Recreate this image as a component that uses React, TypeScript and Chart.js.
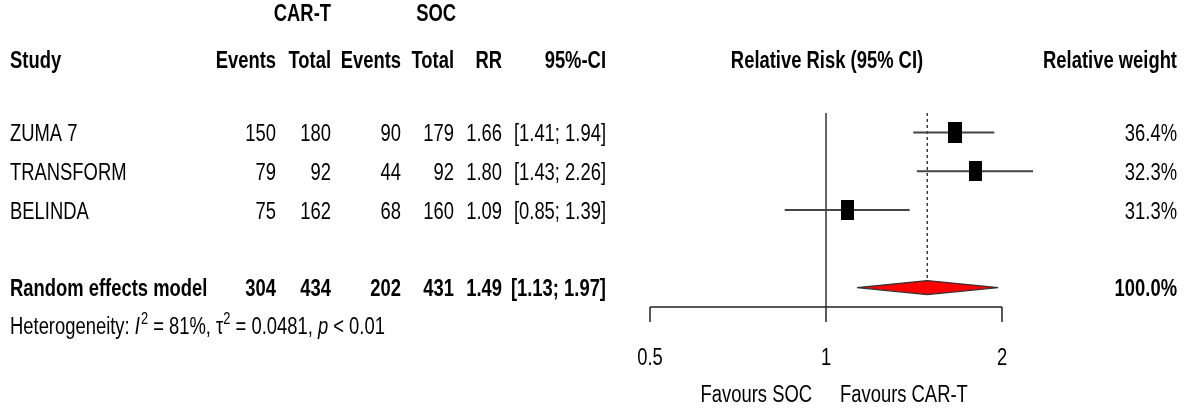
import React, { useEffect, useRef } from "react";
import { Chart, registerables } from "chart.js";

Chart.register(...registerables);

// ---------- data ----------
const studies = ["ZUMA 7", "TRANSFORM", "BELINDA"];
const eventsCart = [150, 79, 75];
const totalCart = [180, 92, 162];
const eventsSoc = [90, 44, 68];
const totalSoc = [179, 92, 160];
const rr = [1.66, 1.8, 1.09];
const ciLow = [1.41, 1.43, 0.85];
const ciHigh = [1.94, 2.26, 1.39];
const weights = ["36.4%", "32.3%", "31.3%"];
const studyRows = [1, 2, 3];

const pooledLabel = "Random effects model";
const pooledEventsCart = 304;
const pooledTotalCart = 434;
const pooledEventsSoc = 202;
const pooledTotalSoc = 431;
const pooledRR = 1.49;
const pooledLow = 1.13;
const pooledHigh = 1.97;
const pooledWeight = "100.0%";
const pooledRow = 5;

const hetI2 = "81%";
const hetTau2 = "0.0481";
const hetP = "< 0.01";

const xTicks = [0.5, 1, 2];
const xTickLabels = ["0.5", "1", "2"];
const labelLeft = "Favours SOC";
const labelRight = "Favours CAR-T";
const groupLabels = ["CAR-T", "SOC"];
const colHeaders = ["Events", "Total", "Events", "Total", "RR", "95%-CI"];

// ---------- style ----------
const W = 1186;
const H = 409;
const FONT = '"Liberation Sans", Arial, Helvetica, sans-serif';
const FS = 23;
const SX = 0.8;

function fmt2(v: number) {
  return v.toFixed(2);
}

function txt(
  ctx: CanvasRenderingContext2D,
  s: string,
  x: number,
  y: number,
  align: CanvasTextAlign,
  bold = false,
  italic = false,
  size = FS
) {
  ctx.save();
  ctx.font = `${italic ? "italic " : ""}${bold ? "bold " : ""}${size}px ${FONT}`;
  ctx.fillStyle = "#000";
  ctx.textAlign = align;
  ctx.textBaseline = "alphabetic";
  ctx.translate(x, y);
  ctx.scale(SX, 1);
  ctx.fillText(s, 0, 0);
  const w = ctx.measureText(s).width * SX;
  ctx.restore();
  return w;
}

function boxImage(w: number, h: number) {
  const c = document.createElement("canvas");
  c.width = w;
  c.height = h;
  const g = c.getContext("2d")!;
  g.fillStyle = "#000";
  g.fillRect(0, 0, w, h);
  return c;
}

const tablePlugin = {
  id: "forestTable",
  afterDraw(chart: any) {
    const ctx: CanvasRenderingContext2D = chart.ctx;
    const xs = chart.scales.x;
    const ys = chart.scales.y;
    const area = chart.chartArea;

    // column right edges
    const cols = [276, 331, 401, 454, 502, 606];

    // header row 1
    txt(ctx, groupLabels[0], cols[1], 21, "right", true);
    txt(ctx, groupLabels[1], cols[3] + 2, 21, "right", true);
    // header row 2
    const h2 = 68;
    txt(ctx, "Study", 10, h2, "left", true);
    colHeaders.forEach((h, i) => txt(ctx, h, cols[i], h2, "right", true));
    txt(ctx, "Relative Risk (95% CI)", xs.getPixelForValue(1) + 1, h2, "center", true);
    txt(ctx, "Relative weight", 1177, h2, "right", true);

    // study rows
    studies.forEach((s, i) => {
      const y = ys.getPixelForValue(studyRows[i]) + 8.5;
      txt(ctx, s, 10, y, "left");
      const vals = [
        String(eventsCart[i]),
        String(totalCart[i]),
        String(eventsSoc[i]),
        String(totalSoc[i]),
        fmt2(rr[i]),
        `[${fmt2(ciLow[i])}; ${fmt2(ciHigh[i])}]`,
      ];
      vals.forEach((v, j) => txt(ctx, v, cols[j], y, "right"));
      txt(ctx, weights[i], 1177, y, "right");
    });

    // pooled row
    const py = ys.getPixelForValue(pooledRow) + 8.5;
    txt(ctx, pooledLabel, 10, py, "left", true);
    const pvals = [
      String(pooledEventsCart),
      String(pooledTotalCart),
      String(pooledEventsSoc),
      String(pooledTotalSoc),
      fmt2(pooledRR),
      `[${fmt2(pooledLow)}; ${fmt2(pooledHigh)}]`,
    ];
    pvals.forEach((v, j) => txt(ctx, v, cols[j], py, "right", true));
    txt(ctx, pooledWeight, 1177, py, "right", true);

    // heterogeneity
    const hy = 334;
    const hs = 23;
    let hx = 10;
    hx += txt(ctx, "Heterogeneity: ", hx, hy, "left", false, false, hs);
    hx += txt(ctx, "I", hx, hy, "left", false, true, hs) + 1;
    hx += txt(ctx, "2", hx, hy - 10, "left", false, false, 16);
    hx += txt(ctx, ` = ${hetI2}, `, hx, hy, "left", false, false, hs);
    hx += txt(ctx, "\u03c4", hx, hy, "left", false, false, hs);
    hx += txt(ctx, "2", hx, hy - 10, "left", false, false, 16);
    hx += txt(ctx, ` = ${hetTau2}, `, hx, hy, "left", false, false, hs);
    hx += txt(ctx, "p", hx, hy, "left", false, true, hs);
    txt(ctx, ` ${hetP}`, hx, hy, "left", false, false, hs);

    // x axis
    const ay = area.bottom;
    const x0 = xs.getPixelForValue(xTicks[0]);
    const x1 = xs.getPixelForValue(xTicks[xTicks.length - 1]);
    ctx.save();
    ctx.strokeStyle = "#222";
    ctx.lineWidth = 1.5;
    ctx.beginPath();
    ctx.moveTo(x0, ay);
    ctx.lineTo(x1, ay);
    xTicks.forEach((t) => {
      const px = xs.getPixelForValue(t);
      ctx.moveTo(px, ay);
      ctx.lineTo(px, ay + 15);
    });
    ctx.stroke();
    ctx.restore();
    xTicks.forEach((t, i) => {
      txt(ctx, xTickLabels[i], xs.getPixelForValue(t), 365, "center");
    });
    const cx = xs.getPixelForValue(1);
    txt(ctx, labelLeft, cx - 14, 402, "right");
    txt(ctx, labelRight, cx + 14, 402, "left");
  },
};

export default function App() {
  const ref = useRef<HTMLCanvasElement | null>(null);

  useEffect(() => {
    if (!ref.current) return;
    const d = 0.18;
    const boxes = [boxImage(14, 21), boxImage(13, 20), boxImage(13, 20)];
    const datasets: any[] = [
      {
        label: "null line",
        data: [
          { x: 1, y: 0.5 },
          { x: 1, y: 5.5 },
        ],
        showLine: true,
        pointRadius: 0,
        borderColor: "#333",
        borderWidth: 1.5,
        clip: false,
        order: 3,
      },
      {
        label: "pooled line",
        data: [
          { x: pooledRR, y: 0.5 },
          { x: pooledRR, y: pooledRow - d },
        ],
        showLine: true,
        pointRadius: 0,
        borderColor: "#222",
        borderWidth: 1.3,
        borderDash: [3, 3],
        clip: false,
        order: 3,
      },
      ...studies.map((s, i) => ({
        label: s + " CI",
        data: [
          { x: ciLow[i], y: studyRows[i] },
          { x: ciHigh[i], y: studyRows[i] },
        ],
        showLine: true,
        pointRadius: 0,
        borderColor: "#444",
        borderWidth: 2,
        clip: false,
        order: 2,
      })),
      {
        label: "estimates",
        data: studies.map((s, i) => ({ x: rr[i], y: studyRows[i] })),
        showLine: false,
        pointStyle: boxes,
        pointRadius: 8,
        clip: false,
        order: 0,
      },
      {
        label: "pooled",
        data: [
          { x: pooledLow, y: pooledRow },
          { x: pooledRR, y: pooledRow - d },
          { x: pooledHigh, y: pooledRow },
          { x: pooledRR, y: pooledRow + d },
          { x: pooledLow, y: pooledRow },
        ],
        showLine: true,
        pointRadius: 0,
        borderColor: "#333",
        borderWidth: 1.2,
        backgroundColor: "#ff0000",
        fill: "shape",
        clip: false,
        order: 1,
      },
    ];

    const chart = new Chart(ref.current, {
      type: "scatter",
      data: { datasets },
      options: {
        animation: false,
        responsive: false,
        maintainAspectRatio: false,
        events: [],
        layout: { padding: { left: 650, right: W - 1002, top: 113, bottom: H - 307 } },
        plugins: { legend: { display: false }, tooltip: { enabled: false } },
        scales: {
          x: { type: "logarithmic", min: 0.5, max: 2, display: false },
          y: { type: "linear", min: 0.5, max: 5.5, reverse: true, display: false },
        },
      },
      plugins: [tablePlugin],
    } as any);
    return () => chart.destroy();
  }, []);

  return (
    <div style={{ position: "absolute", left: 0, top: 0, width: W, height: H, background: "#fff" }}>
      <canvas ref={ref} width={W} height={H} style={{ display: "block", width: W, height: H }} />
    </div>
  );
}
